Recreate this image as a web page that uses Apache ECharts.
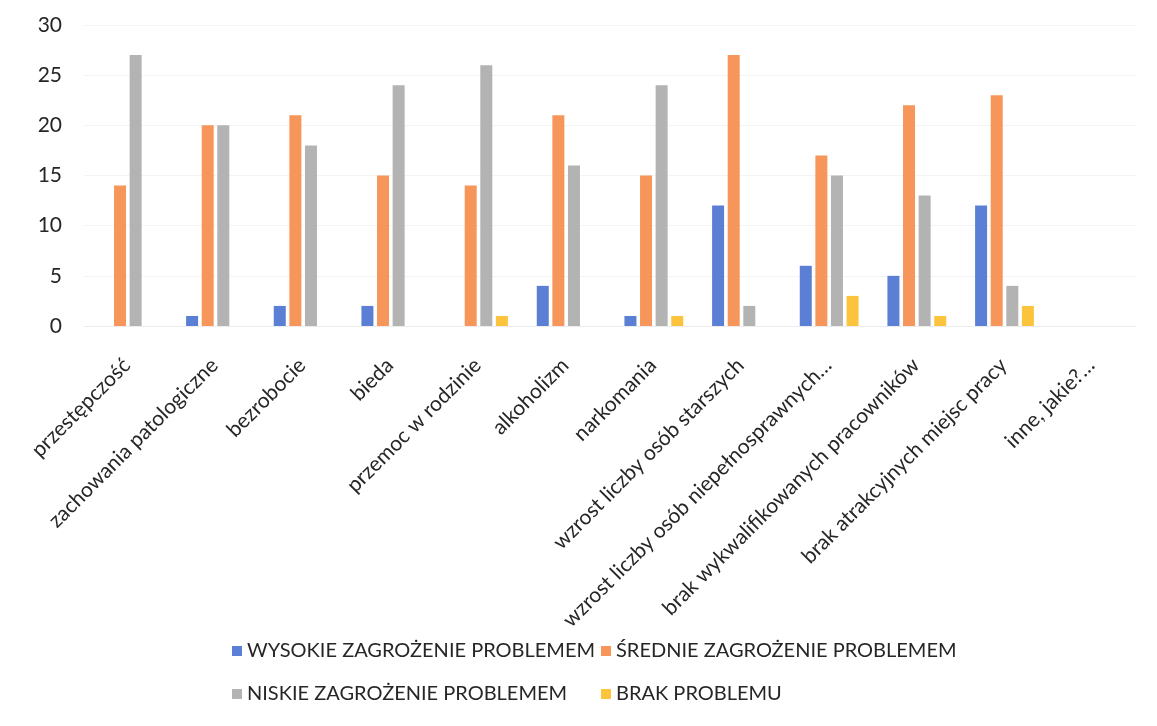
<!DOCTYPE html>
<html>
<head>
<meta charset="utf-8">
<title>Zagrożenia problemami społecznymi</title>
<script src="https://cdn.jsdelivr.net/npm/echarts@6/dist/echarts.min.js"></script>
<style>
  html, body { margin: 0; padding: 0; background: #ffffff; }
  #chart { width: 1157px; height: 726px; }
</style>
</head>
<body>
<div id="chart"></div>
<script>
// Problem categories (x axis)
const categories = [
  'przestępczość',
  'zachowania patologiczne',
  'bezrobocie',
  'bieda',
  'przemoc w rodzinie',
  'alkoholizm',
  'narkomania',
  'wzrost liczby osób starszych',
  'wzrost liczby osób niepełnosprawnych…',
  'brak wykwalifikowanych pracowników',
  'brak atrakcyjnych miejsc pracy',
  'inne, jakie?…'
];

// Number of answers per level of threat
const wysokie = [0, 1, 2, 2, 0, 4, 1, 12, 6, 5, 12, 0];
const srednie = [14, 20, 21, 15, 14, 21, 15, 27, 17, 22, 23, 0];
const niskie  = [27, 20, 18, 24, 26, 16, 24, 2, 15, 13, 4, 0];
const brak    = [0, 0, 0, 0, 1, 0, 1, 0, 3, 1, 2, 0];

const seriesNames = [
  'WYSOKIE ZAGROŻENIE PROBLEMEM',
  'ŚREDNIE ZAGROŻENIE PROBLEMEM',
  'NISKIE ZAGROŻENIE PROBLEMEM',
  'BRAK PROBLEMU'
];

// Value axis ticks
const yMin = 0, yMax = 30, yStep = 5;

const colors = ['#5a7fd4', '#f7965a', '#b3b3b3', '#fcc43c'];
const FONT = 'Lato';
const TEXT = '#262626';

const chart = echarts.init(document.getElementById('chart'), null, { renderer: 'canvas' });

// Legend laid out as two columns of two entries each
const legendCommon = {
  orient: 'vertical',
  icon: 'rect',
  padding: 0,
  itemWidth: 10,
  itemHeight: 10,
  itemGap: 19,
  textStyle: { fontFamily: FONT, fontSize: 20, color: TEXT, lineHeight: 24 },
  selectedMode: false
};

chart.setOption({
  backgroundColor: '#ffffff',
  color: colors,
  animation: false,
  grid: { left: 84, right: 21, top: 25, bottom: 400, containLabel: false },
  legend: [
    Object.assign({ left: 232, top: 639, data: [seriesNames[0], seriesNames[2]] }, legendCommon),
    Object.assign({ left: 601, top: 639, data: [seriesNames[1], seriesNames[3]] }, legendCommon)
  ],
  xAxis: {
    type: 'category',
    data: categories,
    axisLine: { show: true, lineStyle: { color: '#ececec' } },
    axisTick: { show: false },
    axisLabel: {
      interval: 0,
      rotate: 45,
      align: 'right',
      verticalAlign: 'top',
      margin: 20,
      padding: [0, 12, 0, 0],
      fontFamily: FONT,
      fontSize: 21,
      color: TEXT
    }
  },
  yAxis: {
    type: 'value',
    min: yMin,
    max: yMax,
    interval: yStep,
    axisLine: { show: false },
    axisTick: { show: false },
    splitLine: { lineStyle: { color: '#f3f3f3' } },
    axisLabel: { margin: 22, fontFamily: FONT, fontSize: 21, color: TEXT }
  },
  series: [wysokie, srednie, niskie, brak].map((values, i) => ({
    name: seriesNames[i],
    type: 'bar',
    data: values,
    barWidth: 12,
    barGap: '30%'
  }))
});
</script>
</body>
</html>
